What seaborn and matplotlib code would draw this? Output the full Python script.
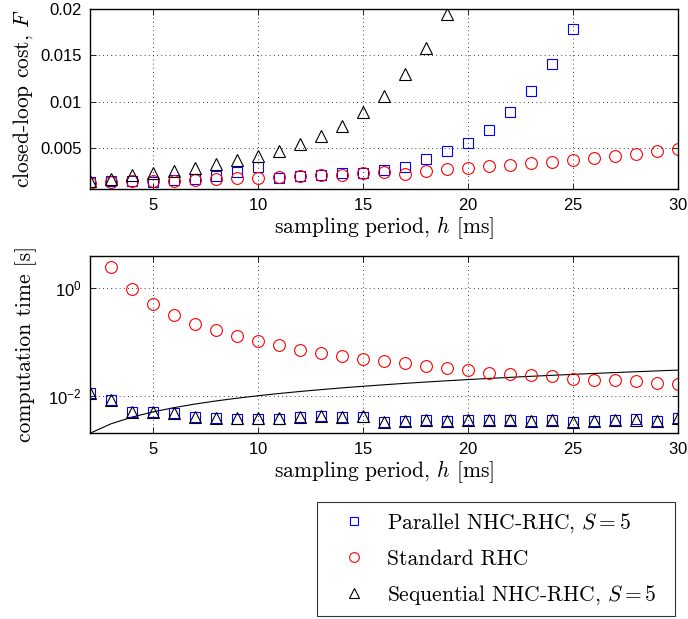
import numpy as np
import pandas as pd
import matplotlib
matplotlib.use("Agg")
import matplotlib.pyplot as plt
import seaborn as sns
from matplotlib.ticker import FixedLocator, FuncFormatter, NullLocator
from matplotlib.lines import Line2D

# ---------------- data ----------------
h_all = list(range(2, 31))

# top panel: closed-loop cost F
cost_parallel_h = list(range(2, 26))
cost_parallel = [0.00133, 0.00143, 0.00143, 0.00135, 0.00158, 0.00169, 0.00197, 0.0024,
                 0.00298, 0.0018, 0.00197, 0.00215, 0.00233, 0.00233, 0.00269, 0.00294,
                 0.00384, 0.00466, 0.00562, 0.0070, 0.00889, 0.01122, 0.01409, 0.01782]
cost_standard_h = list(range(2, 31))
cost_standard = [0.00126, 0.00133, 0.00151, 0.00143, 0.00151, 0.00161, 0.00172, 0.0018,
                 0.0018, 0.00187, 0.00197, 0.00208, 0.00215, 0.00233, 0.0024, 0.00226,
                 0.00261, 0.0028, 0.00287, 0.00305, 0.00323, 0.0034, 0.00358, 0.00376,
                 0.00394, 0.0042, 0.00441, 0.00466, 0.00491]
cost_sequential_h = list(range(2, 20))
cost_sequential = [0.00143, 0.00172, 0.00215, 0.00233, 0.00261, 0.00287, 0.0033, 0.00369,
                   0.0042, 0.00473, 0.00548, 0.00638, 0.00745, 0.00889, 0.01068, 0.01298,
                   0.01577, 0.01946]

# bottom panel: computation time [s]
time_parallel = [0.0112, 0.0083, 0.0050, 0.0049, 0.0047, 0.0041, 0.0038, 0.0037, 0.0037,
                 0.0037, 0.0040, 0.0042, 0.0040, 0.0041, 0.0033, 0.0034, 0.0035, 0.0034,
                 0.0035, 0.0036, 0.0036, 0.0034, 0.0035, 0.0033, 0.0034, 0.0036, 0.0037,
                 0.0034, 0.0038]
time_standard_h = list(range(3, 31))
time_standard = [2.46, 0.97, 0.51, 0.314, 0.219, 0.167, 0.131, 0.104, 0.0867, 0.071, 0.0632,
                 0.0548, 0.0489, 0.0443, 0.0401, 0.0357, 0.0328, 0.0305, 0.0265, 0.025,
                 0.024, 0.023, 0.0205, 0.0196, 0.0194, 0.0185, 0.0175, 0.0165]
time_sequential = [0.0114, 0.0083, 0.0049, 0.0049, 0.0047, 0.0041, 0.0038, 0.0038, 0.0038,
                   0.0038, 0.0041, 0.0042, 0.0041, 0.0042, 0.0033, 0.0034, 0.0035, 0.0034,
                   0.0035, 0.0036, 0.0035, 0.0034, 0.0035, 0.0033, 0.0034, 0.0036, 0.0036,
                   0.0034, 0.0038]
# sampling period in seconds (real-time bound)
period_s = [0.002, 0.003, 0.004, 0.005, 0.006, 0.007, 0.008, 0.009, 0.010, 0.011, 0.012,
            0.013, 0.014, 0.015, 0.016, 0.017, 0.018, 0.019, 0.020, 0.021, 0.022, 0.023,
            0.024, 0.025, 0.026, 0.027, 0.028, 0.029, 0.030]

labels = [r"Parallel NHC-RHC, $S=5$", "Standard RHC", r"Sequential NHC-RHC, $S=5$"]
colors = ["#0000ff", "#ff0000", "#000000"]
markers = ["s", "o", "^"]
msizes = [7.0, 8.5, 8.5]

# ---------------- style ----------------
plt.rcParams["font.family"] = ["cmr10", "DejaVu Serif"]
plt.rcParams["mathtext.fontset"] = "cm"
plt.rcParams["axes.unicode_minus"] = False
plt.rcParams["axes.formatter.use_mathtext"] = True

fig = plt.figure(figsize=(6.88, 6.19), dpi=100)
ax1 = fig.add_axes([90 / 688, 1 - 189 / 619, 588 / 688, 180 / 619])
ax2 = fig.add_axes([90 / 688, 1 - 432.7 / 619, 588 / 688, 177 / 619])

def markers_plot(ax, x, y, i):
    sns.lineplot(x=x, y=y, ax=ax, linestyle="none", marker=markers[i],
                 markersize=msizes[i], markerfacecolor="none",
                 markeredgecolor=colors[i], markeredgewidth=0.8, color=colors[i],
                 estimator=None, sort=False)

markers_plot(ax1, cost_parallel_h, cost_parallel, 0)
markers_plot(ax1, cost_standard_h, cost_standard, 1)
markers_plot(ax1, cost_sequential_h, cost_sequential, 2)

sns.lineplot(x=h_all, y=period_s, ax=ax2, color="black", linewidth=0.8,
             estimator=None, sort=False)
markers_plot(ax2, h_all, time_parallel, 0)
markers_plot(ax2, time_standard_h, time_standard, 1)
markers_plot(ax2, h_all, time_sequential, 2)

tickfont = "Liberation Sans"
for ax in (ax1, ax2):
    ax.set_xlim(2, 30)
    ax.set_xticks([5, 10, 15, 20, 25, 30])
    ax.tick_params(direction="in", length=4, width=0.6, top=True, right=True,
                   labelsize=12, pad=6)
    for lab in ax.get_xticklabels() + ax.get_yticklabels():
        lab.set_fontfamily(tickfont)
    ax.grid(True, color="black", linestyle=(0, (1, 4)), linewidth=0.6)
    for s in ax.spines.values():
        s.set_linewidth(1.0)
    ax.set_xlabel(r"sampling period, $h$ [ms]", fontsize=15.5, labelpad=1)

ax1.set_ylim(0.00062, 0.02)
ax1.set_yticks([0.005, 0.01, 0.015, 0.02])
ax1.set_yticklabels(["0.005", "0.01", "0.015", "0.02"], fontfamily=tickfont)
ax1.set_ylabel(r"closed-loop cost, $F$", fontsize=15.5, labelpad=4)

ax2.set_yscale("log")
ax2.set_ylim(0.00205, 4.05)
ax2.yaxis.set_major_locator(FixedLocator([1e-2, 1e0]))
ax2.yaxis.set_minor_locator(NullLocator())
ax2.yaxis.set_major_formatter(FuncFormatter(lambda v, p: r"$\mathregular{10^{%d}}$" % round(np.log10(v))))
for lab in ax2.get_yticklabels():
    lab.set_fontfamily(tickfont)
ax2.set_ylabel("computation time [s]", fontsize=15.5, labelpad=8)

handles = [Line2D([], [], linestyle="none", marker=markers[i], markersize=msizes[i] - 1.5,
                  markerfacecolor="none", markeredgecolor=colors[i], markeredgewidth=0.8)
           for i in range(3)]
leg = fig.legend(handles, labels, loc="upper left",
                 bbox_to_anchor=(317 / 688, 1 - 617.7 / 619, (675 - 317) / 688, (617.7 - 502.3) / 619),
                 mode="expand", fontsize=15.5, frameon=True, fancybox=False,
                 edgecolor="black", labelspacing=0.68, handletextpad=0.25,
                 borderpad=0.4, handlelength=2.6, borderaxespad=0)
leg.get_frame().set_linewidth(0.8)

fig.savefig("out.png", dpi=100)
